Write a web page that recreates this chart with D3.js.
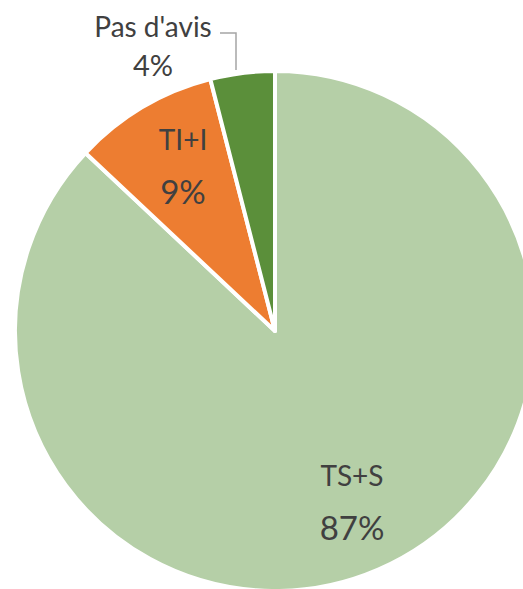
<!DOCTYPE html>
<meta charset="utf-8">
<style>
body { margin: 0; background: #fff; }
text { font-family: Lato, "Open Sans", sans-serif; fill: #404040; }
</style>
<body>
<script src="https://cdn.jsdelivr.net/npm/d3@7"></script>
<script>
// data
var categories = ["TS+S", "TI+I", "Pas d'avis"];
var values = [87, 9, 4];
var colors = ["#b5cfa7", "#ed7d31", "#5b8f3a"];

var width = 523, height = 589;
var cx = 275, cy = 331, radius = 260;

var svg = d3.select("body").append("svg")
    .attr("width", width)
    .attr("height", height);

var pie = d3.pie().sort(null).value(function(d) { return d; });
var arc = d3.arc().innerRadius(0).outerRadius(radius);

var g = svg.append("g").attr("transform", "translate(" + cx + "," + cy + ")");

var arcs = pie(values);

g.selectAll("path")
    .data(arcs)
    .enter().append("path")
    .attr("d", arc)
    .style("fill", function(d, i) { return colors[i]; })
    .style("stroke", "#fff")
    .style("stroke-width", 4)
    .style("stroke-linejoin", "round");

// label positions (relative to centre): x, name baseline, pct baseline
var labelPos = [[77, 155, 209], [-92, -181, -127], [-122, -294, -255]];
var nameSize = [28, 28, 28];
var pctSize = [33, 33, 29];

arcs.forEach(function(d, i) {
    var p = labelPos[i];
    g.append("text")
        .attr("text-anchor", "middle")
        .attr("x", p[0]).attr("y", p[1])
        .style("font-size", nameSize[i] + "px")
        .text(categories[i]);
    g.append("text")
        .attr("text-anchor", "middle")
        .attr("x", p[0]).attr("y", p[2])
        .style("font-size", pctSize[i] + "px")
        .text(values[i] + "%");
});

// leader line for Pas d'avis
g.append("polyline")
    .attr("points", [[-55, -298], [-39, -298], [-39, -261]].join(" "))
    .style("fill", "none")
    .style("stroke", "#a5a5a5")
    .style("stroke-width", 1.5);
</script>
</body>
